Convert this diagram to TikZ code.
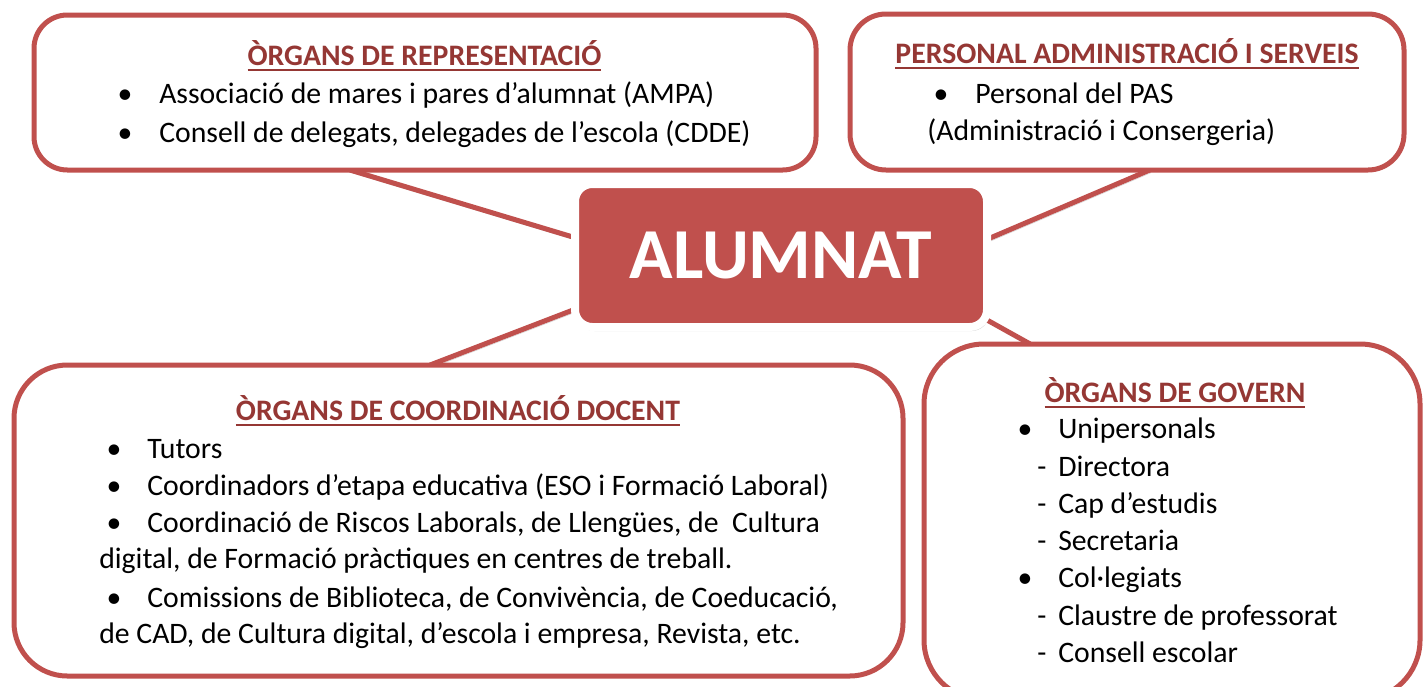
\documentclass[tikz,border=0pt]{standalone}
\usepackage{fontspec}
\setmainfont{Carlito}
\usetikzlibrary{calc,shadows,backgrounds}
\definecolor{boxred}{RGB}{192,80,77}
\definecolor{titlered}{RGB}{149,55,52}
\newcommand{\ulx}[1]{\setbox0=\hbox{#1}\rlap{\rule[-4.5pt]{\wd0}{1.5pt}}\box0}
\begin{document}
\begin{tikzpicture}[x=0.75pt, y=-0.75pt,
    panel/.style={draw=boxred, line width=3.75pt, fill=white, inner sep=0pt, outer sep=0pt},
    link/.style={draw=boxred, line width=3.75pt,
        preaction={draw=black, opacity=0.18, transform canvas={shift={(1pt,-2pt)}}}},
    ttl/.style={anchor=base, inner sep=0pt, text=titlered, font=\fontsize{22.3}{27}\selectfont\bfseries},
    txt/.style={anchor=base west, inner sep=0pt, font=\fontsize{22.3}{27}\selectfont},
    blt/.style={anchor=base, inner sep=0pt, font=\fontsize{22.3}{27}\selectfont}]

    \clip (0,0) rectangle (1426,686);

    % Central box
    \node[fill=boxred, draw=white, line width=6pt, rounded corners=13pt, inner sep=0pt, outer sep=0pt,
          minimum width=309pt, minimum height=107.25pt, text=white,
          font=\fontsize{53.8}{60}\selectfont\bfseries,
          drop shadow={opacity=0.35, shadow xshift=1.5pt, shadow yshift=-3pt}] (alum) at (781,255.5) {ALUMNAT};

    % Surrounding boxes
    \node[panel, rounded corners=25pt, minimum width=586.5pt, minimum height=116.25pt] (repr) at (425,92.5) {};
    \node[panel, rounded corners=27pt, minimum width=415.5pt, minimum height=117pt] (pas) at (1127,92) {};
    \node[panel, rounded corners=40pt, minimum width=666.75pt, minimum height=233.25pt] (coord) at (458.5,520.5) {};
    \node[panel, rounded corners=45pt, minimum width=372pt, minimum height=267pt] (govern) at (1172,522) {};

    % Connectors behind the boxes
    \begin{pgfonlayer}{background}
        \draw[link] ($(repr.south west)!0.404!(repr.south east)$) -- ($(alum.north west)!0.378!(alum.south west)+(8,2)$);
        \draw[link] ($(pas.south west)!0.541!(pas.south east)$) -- ($(alum.north east)!0.39!(alum.south east)+(-8,3)$);
        \draw[link] ($(coord.north west)!0.468!(coord.north east)$) -- ($(alum.south west)!0.13!(alum.north west)+(10,-3)$);
        \draw[link] ($(govern.north west)!0.214!(govern.north east)$) -- ($(alum.south east)!0.06!(alum.north east)+(-10,-4)$);
    \end{pgfonlayer}

    % Organs de representacio
    \node[ttl] (reprT) at (424.5,65) {\ulx{ÒRGANS DE REPRESENTACIÓ}};
    \node[blt] (reprB1) at (125,103) {\textbullet};
    \node[txt] (repr1) at (159,103) {Associació de mares i pares d’alumnat (AMPA)};
    \node[blt] (reprB2) at (125,142) {\textbullet};
    \node[txt] (repr2) at (159,142) {Consell de delegats, delegades de l’escola (CDDE)};

    % Personal administracio i serveis
    \node[ttl] (pasT) at (1127,63) {\ulx{PERSONAL ADMINISTRACIÓ I SERVEIS}};
    \node[blt] (pasB1) at (941,103) {\textbullet};
    \node[txt] (pas1) at (975,103) {Personal del PAS};
    \node[txt] (pas2) at (927,140) {(Administració i Consergeria)};

    % Organs de coordinacio docent
    \node[ttl] (coordT) at (458,420) {\ulx{ÒRGANS DE COORDINACIÓ DOCENT}};
    \node[blt] (coordB1) at (114,458) {\textbullet};
    \node[txt] (coord1) at (147,458) {Tutors};
    \node[blt] (coordB2) at (114,495) {\textbullet};
    \node[txt] (coord2) at (147,495) {Coordinadors d’etapa educativa (ESO i Formació Laboral)};
    \node[blt] (coordB3) at (114,532) {\textbullet};
    \node[txt] (coord3) at (147,532) {Coordinació de Riscos Laborals, de Llengües, de\ \ Cultura};
    \node[txt] (coord4) at (99,568) {digital, de Formació pràctiques en centres de treball.};
    \node[blt] (coordB5) at (114,607) {\textbullet};
    \node[txt] (coord5) at (147,607) {Comissions de Biblioteca, de Convivència, de Coeducació,};
    \node[txt] (coord6) at (99,643) {de CAD, de Cultura digital, d’escola i empresa, Revista, etc.};

    % Organs de govern
    \node[ttl] (govT) at (1175,402) {\ulx{ÒRGANS DE GOVERN}};
    \node[blt] (govB1) at (1025,438) {\textbullet};
    \node[txt] (gov1) at (1058,438) {Unipersonals};
    \node[blt] (govD1) at (1042,476) {-};
    \node[txt] (gov2) at (1058,476) {Directora};
    \node[blt] (govD2) at (1042,513) {-};
    \node[txt] (gov3) at (1058,513) {Cap d’estudis};
    \node[blt] (govD3) at (1042,550) {-};
    \node[txt] (gov4) at (1058,550) {Secretaria};
    \node[blt] (govB2) at (1025,587) {\textbullet};
    \node[txt] (gov5) at (1058,587) {Col·legiats};
    \node[blt] (govD4) at (1042,625) {-};
    \node[txt] (gov6) at (1058,625) {Claustre de professorat};
    \node[blt] (govD5) at (1042,662) {-};
    \node[txt] (gov7) at (1058,662) {Consell escolar};

\end{tikzpicture}
\end{document}
